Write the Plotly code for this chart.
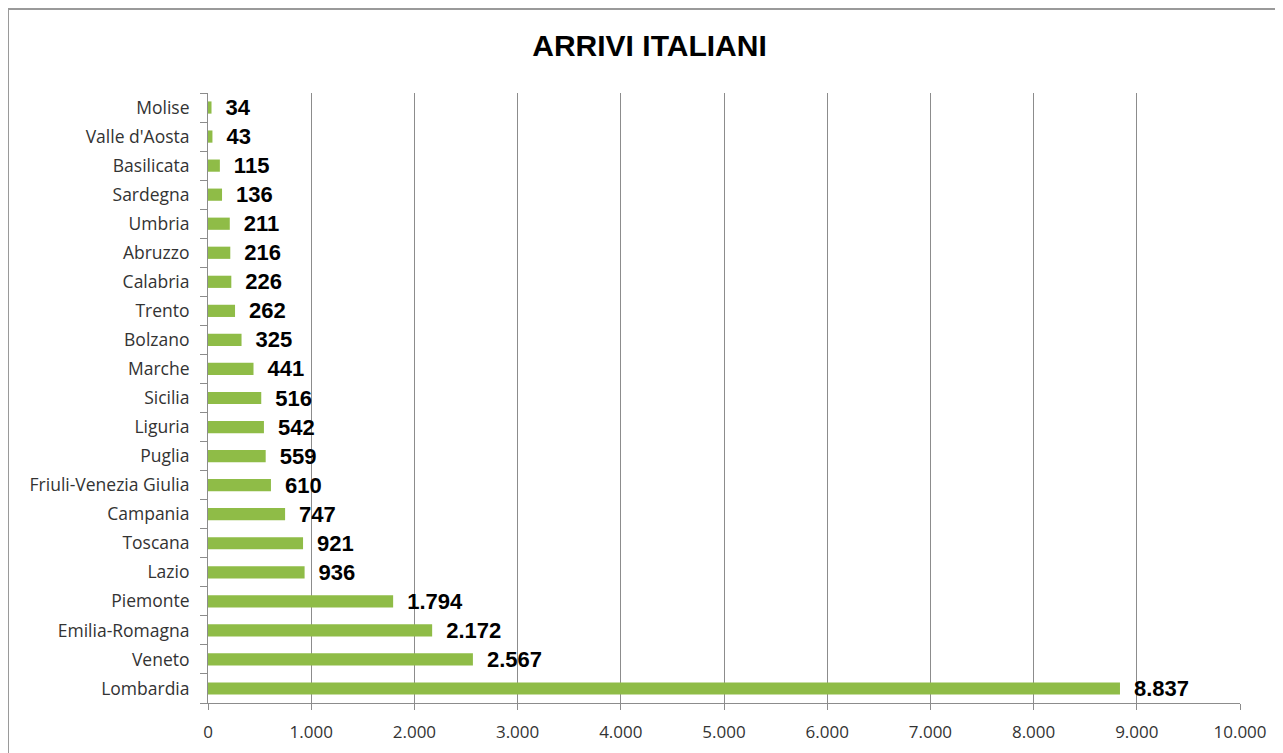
import plotly.graph_objects as go

regions = ['Lombardia', 'Veneto', 'Emilia-Romagna', 'Piemonte', 'Lazio', 'Toscana',
           'Campania', 'Friuli-Venezia Giulia', 'Puglia', 'Liguria', 'Sicilia', 'Marche',
           'Bolzano', 'Trento', 'Calabria', 'Abruzzo', 'Umbria', 'Sardegna',
           'Basilicata', "Valle d'Aosta", 'Molise']
arrivals = [8837, 2567, 2172, 1794, 936, 921, 747, 610, 559, 542, 516, 441,
            325, 262, 226, 216, 211, 136, 115, 43, 34]
x_ticks = [0, 1000, 2000, 3000, 4000, 5000, 6000, 7000, 8000, 9000, 10000]

bold_font = 'Liberation Sans, Arial, sans-serif'

fig = go.Figure()

fig.add_trace(go.Bar(
  x = arrivals,
  y = regions,
  orientation = 'h',
  width = 0.42,
  marker = dict(color = '#8fbc47', line = dict(width = 0)),
  texttemplate = '\u2002%{x:,d}',
  textposition = 'outside',
  constraintext = 'none',
  cliponaxis = False,
  textfont = dict(family = bold_font, size = 22, color = 'black', weight = 'bold'),
  hoverinfo = 'x+y',
))

# page body has an 8px margin, so the plot box is shifted back by 8px
fig.update_layout(
  width = 1283,
  height = 753,
  separators = ',.',
  showlegend = False,
  plot_bgcolor = 'white',
  paper_bgcolor = 'white',
  margin = dict(l = 200, r = 51, t = 85, b = 58, autoexpand = False),
  title = dict(
    text = '<b>ARRIVI ITALIANI</b>',
    x = 0.5, xanchor = 'center',
    y = 0.95, yanchor = 'middle',
    font = dict(family = bold_font, size = 30, color = 'black'),
  ),
  xaxis = dict(
    range = [0, 10000],
    tickvals = x_ticks,
    tickformat = ',d',
    showgrid = True,
    gridcolor = '#8c8c8c',
    gridwidth = 1,
    showline = True,
    linecolor = '#8c8c8c',
    ticks = 'outside',
    ticklen = 6,
    tickcolor = '#8c8c8c',
    zeroline = False,
    ticklabelstandoff = 8,
    tickfont = dict(family = 'Open Sans', size = 17, color = '#333'),
  ),
  yaxis = dict(
    showline = True,
    linecolor = '#8c8c8c',
    ticks = 'outside',
    ticklen = 7,
    tickcolor = '#8c8c8c',
    tickson = 'boundaries',
    showgrid = False,
    tickfont = dict(family = 'Open Sans', size = 17.5, color = '#333'),
    ticklabelstandoff = 14,
  ),
  shapes = [dict(
    type = 'rect', xref = 'paper', yref = 'paper',
    x0 = (0 - 200) / 1032, x1 = 1.2,
    y0 = -0.2, y1 = (695 - 1) / 610,
    line = dict(color = '#9a9a9a', width = 2),
    fillcolor = 'rgba(0,0,0,0)',
    layer = 'below',
  )],
)

fig.write_html('out.html')
